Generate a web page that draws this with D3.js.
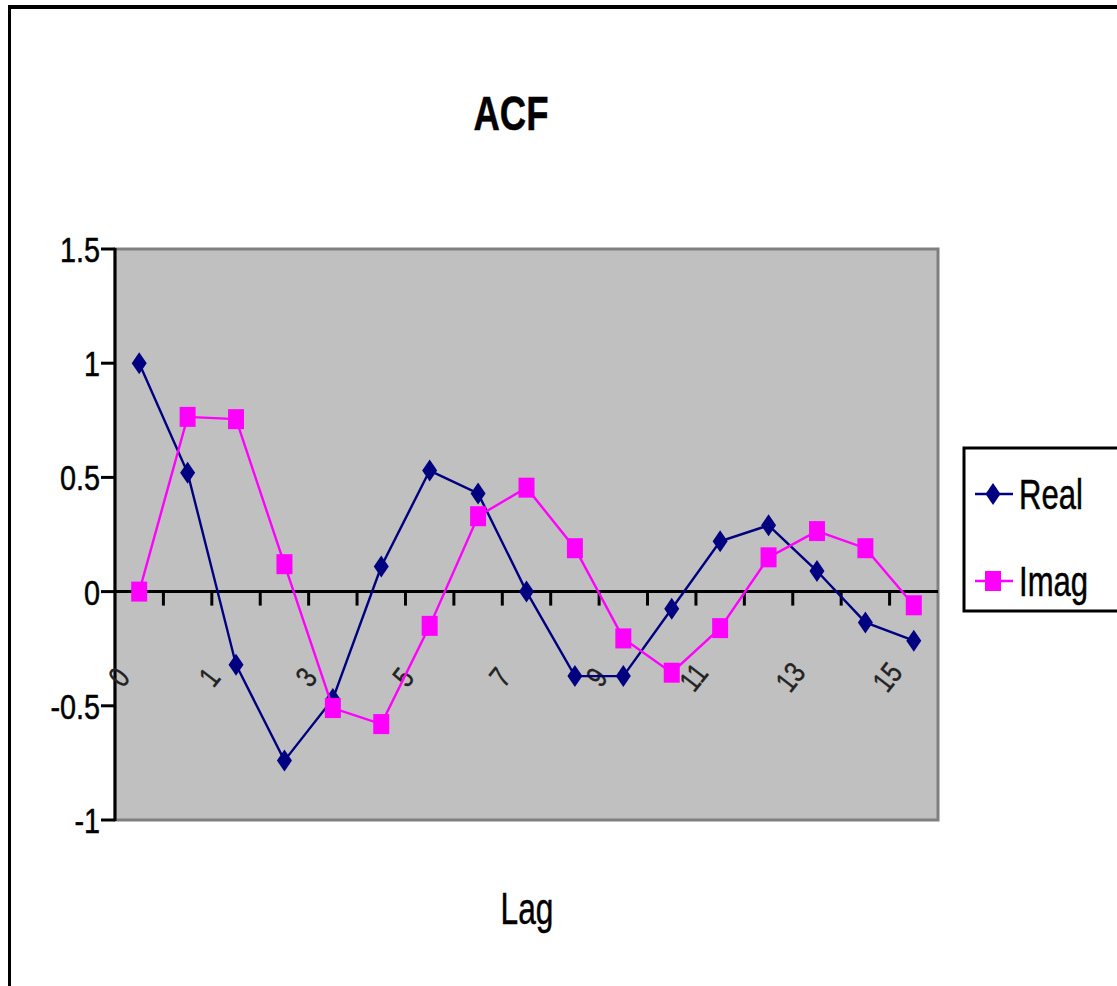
<!DOCTYPE html>
<html>
<head>
<style>
  body { margin: 0; background: #fff; }
  text { font-family: "Liberation Sans", Arial, sans-serif; fill: #000; stroke: #000; stroke-width: 0.5px; }
</style>
<script src="https://d3js.org/d3.v7.min.js"></script>
</head>
<body>
<svg width="1117" height="986"></svg>
<script>
// data
var lags = d3.range(0, 17);
var realVals = [1.0, 0.52, -0.32, -0.74, -0.47, 0.11, 0.53, 0.43, 0.0, -0.37, -0.37, -0.075, 0.22, 0.29, 0.09, -0.135, -0.215];
var imagVals = [0.0, 0.765, 0.755, 0.12, -0.51, -0.58, -0.15, 0.33, 0.455, 0.19, -0.205, -0.355, -0.16, 0.15, 0.265, 0.19, -0.06];
var yTicks = [1.5, 1, 0.5, 0, -0.5, -1];
var xTickLabels = ["0", "1", "3", "5", "7", "9", "11", "13", "15"];
var seriesNames = ["Real", "Imag"];
var colors = ["#000080", "#ff00ff"];

var svg = d3.select("svg");
var plot = { left: 115, right: 938, top: 249, bottom: 820 };

// outer frame (only top and left edges are visible)
svg.append("line").attr("x1", 8).attr("x2", 1117).attr("y1", 7).attr("y2", 7)
   .attr("stroke", "#000").attr("stroke-width", 4);
svg.append("line").attr("x1", 9.5).attr("x2", 9.5).attr("y1", 5).attr("y2", 986)
   .attr("stroke", "#000").attr("stroke-width", 3);

var x = d3.scaleBand().domain(lags).range([plot.left, plot.right]);
var y = d3.scaleLinear().domain([-1, 1.5]).range([plot.bottom, plot.top]);
var cx = function(i) { return x(i) + x.bandwidth() / 2; };

// squished text helper (reference is stretched vertically)
function label(g, tx, ty, str, size, sx, anchor, weight) {
    return g.append("text")
        .attr("transform", "translate(" + tx + "," + ty + ") scale(" + sx + ",1)")
        .attr("text-anchor", anchor || "middle")
        .style("font-size", size + "px")
        .style("font-weight", weight || "normal")
        .text(str);
}

// plot area
svg.append("rect")
   .attr("x", plot.left).attr("y", plot.top)
   .attr("width", plot.right - plot.left).attr("height", plot.bottom - plot.top)
   .attr("fill", "#c0c0c0").attr("stroke", "#808080").attr("stroke-width", 3);

// y axis
svg.append("line").attr("x1", plot.left).attr("x2", plot.left)
   .attr("y1", plot.top - 1).attr("y2", plot.bottom + 1)
   .attr("stroke", "#000").attr("stroke-width", 3);
yTicks.forEach(function(t) {
    svg.append("line").attr("x1", plot.left - 14).attr("x2", plot.left)
       .attr("y1", y(t)).attr("y2", y(t)).attr("stroke", "#000").attr("stroke-width", 3);
    label(svg, plot.left - 15, y(t) + 13, String(t), 36, 0.8, "end");
});

// x axis at zero
svg.append("line").attr("x1", plot.left).attr("x2", plot.right)
   .attr("y1", y(0)).attr("y2", y(0)).attr("stroke", "#000").attr("stroke-width", 3);
lags.slice(1).forEach(function(i) {
    svg.append("line").attr("x1", x(i)).attr("x2", x(i))
       .attr("y1", y(0)).attr("y2", y(0) + 14).attr("stroke", "#000").attr("stroke-width", 3);
});

// rotated category labels
xTickLabels.forEach(function(l, k) {
    var n = +l;
    var px = k === 0 ? cx(0) - 12 : cx(n) + 30;
    svg.append("text")
       .attr("transform", "translate(" + px + "," + (y(0) + 92) + ") rotate(-52) scale(0.8,1)")
       .attr("text-anchor", "middle")
       .style("font-size", "30px")
       .style("fill", "#222").style("stroke", "#222").style("stroke-width", "0.4px")
       .text(l);
});

// series
var lineGen = d3.line().x(function(d, i) { return cx(i); }).y(function(d) { return y(d); });
var diamond = "M0,-11L7.5,0L0,11L-7.5,0Z";
var square = "M-8,-10H8V10H-8Z";
[realVals, imagVals].forEach(function(vals, s) {
    svg.append("path").datum(vals)
       .attr("d", lineGen).attr("fill", "none")
       .attr("stroke", colors[s]).attr("stroke-width", 2.4);
    svg.selectAll(".m" + s).data(vals).enter().append("path")
       .attr("class", "m" + s)
       .attr("transform", function(d, i) { return "translate(" + cx(i) + "," + y(d) + ")"; })
       .attr("d", s === 0 ? diamond : square)
       .attr("fill", colors[s]);
});

// title and axis title
label(svg, 511, 130, "ACF", 48, 0.76, "middle", "bold");
label(svg, 527, 924, "Lag", 44, 0.72, "middle");

// legend
var lg = svg.append("g");
lg.append("rect").attr("x", 964).attr("y", 448).attr("width", 170).attr("height", 163)
  .attr("fill", "#fff").attr("stroke", "#000").attr("stroke-width", 3);
seriesNames.forEach(function(name, s) {
    var ly = 494 + s * 87;
    lg.append("line").attr("x1", 975).attr("x2", 1013).attr("y1", ly).attr("y2", ly)
      .attr("stroke", colors[s]).attr("stroke-width", 2.5);
    lg.append("path").attr("transform", "translate(993," + ly + ")")
      .attr("d", s === 0 ? diamond : square).attr("fill", colors[s]);
    label(lg, 1019, ly + 15, name, 42, 0.74, "start");
});
</script>
</body>
</html>
